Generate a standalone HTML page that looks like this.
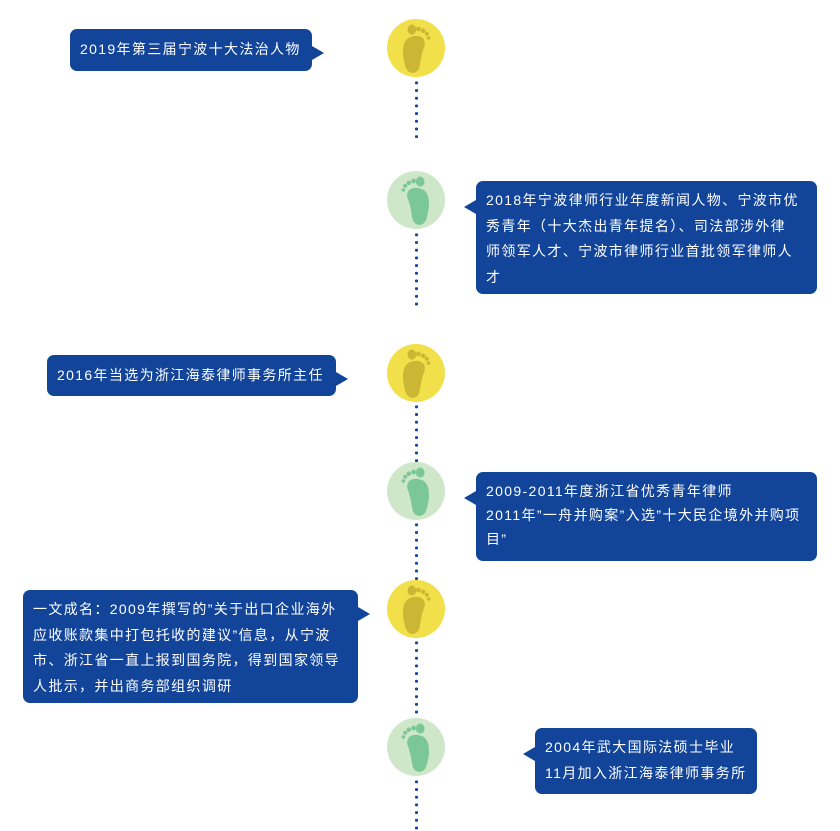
<!DOCTYPE html>
<html><head><meta charset="utf-8"><style>
body{margin:0;width:840px;height:831px;background:#fff;position:relative;overflow:hidden;font-family:"Liberation Sans","Noto Sans CJK SC",sans-serif;}
.c{position:absolute;left:387px;width:58px;height:58px;border-radius:50%;}
.y{background:#f2e04a}.g{background:#cfe7c9}
.c svg{position:absolute;left:0;top:0}
.d{position:absolute;left:414.5px;width:3px;background-image:radial-gradient(circle,#12449a 1.5px,transparent 1.7px);background-size:3px 7.7px;background-repeat:repeat-y;}
.b{position:absolute;background:#12449a;color:#fff;font-size:14px;line-height:25.5px;letter-spacing:1.35px;white-space:nowrap;border-radius:7px;padding:7px 10px 7px 10px;box-sizing:border-box;}
.b:after{content:"";position:absolute;border:7px solid transparent;}
.l:after{left:100%;border-left:12px solid #12449a;border-right:0;top:17px}
.r:after{right:100%;border-right:12px solid #12449a;border-left:0;top:19px}
</style></head><body>
<svg width="0" height="0" style="position:absolute"><defs>
<g id="fy" transform="translate(29 31) scale(1.2) translate(-28 -31)"><path d="M24 20 C16 22 16 34 19 44 C21 52 29 52 31 45 C32 38 33 33 35 28 C37 20 30 18 24 20Z" fill="#cbb733"/><ellipse cx="24.5" cy="14" rx="3.6" ry="4.2" fill="#cbb733"/><circle cx="30" cy="13.5" r="2" fill="#cbb733"/><circle cx="34" cy="15" r="1.9" fill="#cbb733"/><circle cx="37" cy="17.5" r="1.7" fill="#cbb733"/><circle cx="38.5" cy="21" r="1.5" fill="#cbb733"/></g>
<g id="fg" transform="translate(29 31) scale(1.2) translate(-30 -31)"><path d="M34 20 C42 22 42 34 39 44 C37 52 29 52 27 45 C26 38 25 33 23 28 C21 20 28 18 34 20Z" fill="#7bc795"/><ellipse cx="33.5" cy="14" rx="3.6" ry="4.2" fill="#7bc795"/><circle cx="28" cy="13.5" r="2" fill="#7bc795"/><circle cx="24" cy="15" r="1.9" fill="#7bc795"/><circle cx="21" cy="17.5" r="1.7" fill="#7bc795"/><circle cx="19.5" cy="21" r="1.5" fill="#7bc795"/></g>
</defs></svg>
<div class="c y" style="top:19px"><svg width="58" height="58"><use href="#fy"/></svg></div>
<div class="c g" style="top:171px"><svg width="58" height="58"><use href="#fg"/></svg></div>
<div class="c y" style="top:344px"><svg width="58" height="58"><use href="#fy"/></svg></div>
<div class="c g" style="top:462px"><svg width="58" height="58"><use href="#fg"/></svg></div>
<div class="c y" style="top:580px"><svg width="58" height="58"><use href="#fy"/></svg></div>
<div class="c g" style="top:718px"><svg width="58" height="58"><use href="#fg"/></svg></div>
<div class="d" style="top:79px;height:59px"></div>
<div class="d" style="top:231px;height:77px"></div>
<div class="d" style="top:403px;height:59px"></div>
<div class="d" style="top:521px;height:59px"></div>
<div class="d" style="top:639px;height:79px"></div>
<div class="d" style="top:778px;height:53px"></div>

<div class="b l" style="left:70px;top:29px;width:242px;height:42px;padding-top:8px">2019年第三届宁波十大法治人物</div>
<div class="b r" style="left:476px;top:181px;width:341px;height:113px;padding-top:7px">2018年宁波律师行业年度新闻人物、宁波市优<br>秀青年（十大杰出青年提名）、司法部涉外律<br>师领军人才、宁波市律师行业首批领军律师人<br>才</div>
<div class="b l" style="left:47px;top:355px;width:289px;height:41px;padding-top:8px">2016年当选为浙江海泰律师事务所主任</div>
<div class="b r" style="left:476px;top:472px;width:341px;height:89px;padding-top:7px;line-height:24px">2009-2011年度浙江省优秀青年律师<br>2011年”一舟并购案”入选”十大民企境外并购项<br>目”</div>
<div class="b l" style="left:23px;top:590px;width:335px;height:113px;padding-top:7px">一文成名：2009年撰写的”关于出口企业海外<br>应收账款集中打包托收的建议”信息，从宁波<br>市、浙江省一直上报到国务院，得到国家领导<br>人批示，并出商务部组织调研</div>
<div class="b r" style="left:535px;top:728px;width:222px;height:66px;padding-top:7px">2004年武大国际法硕士毕业<br>11月加入浙江海泰律师事务所</div>
</body></html>
